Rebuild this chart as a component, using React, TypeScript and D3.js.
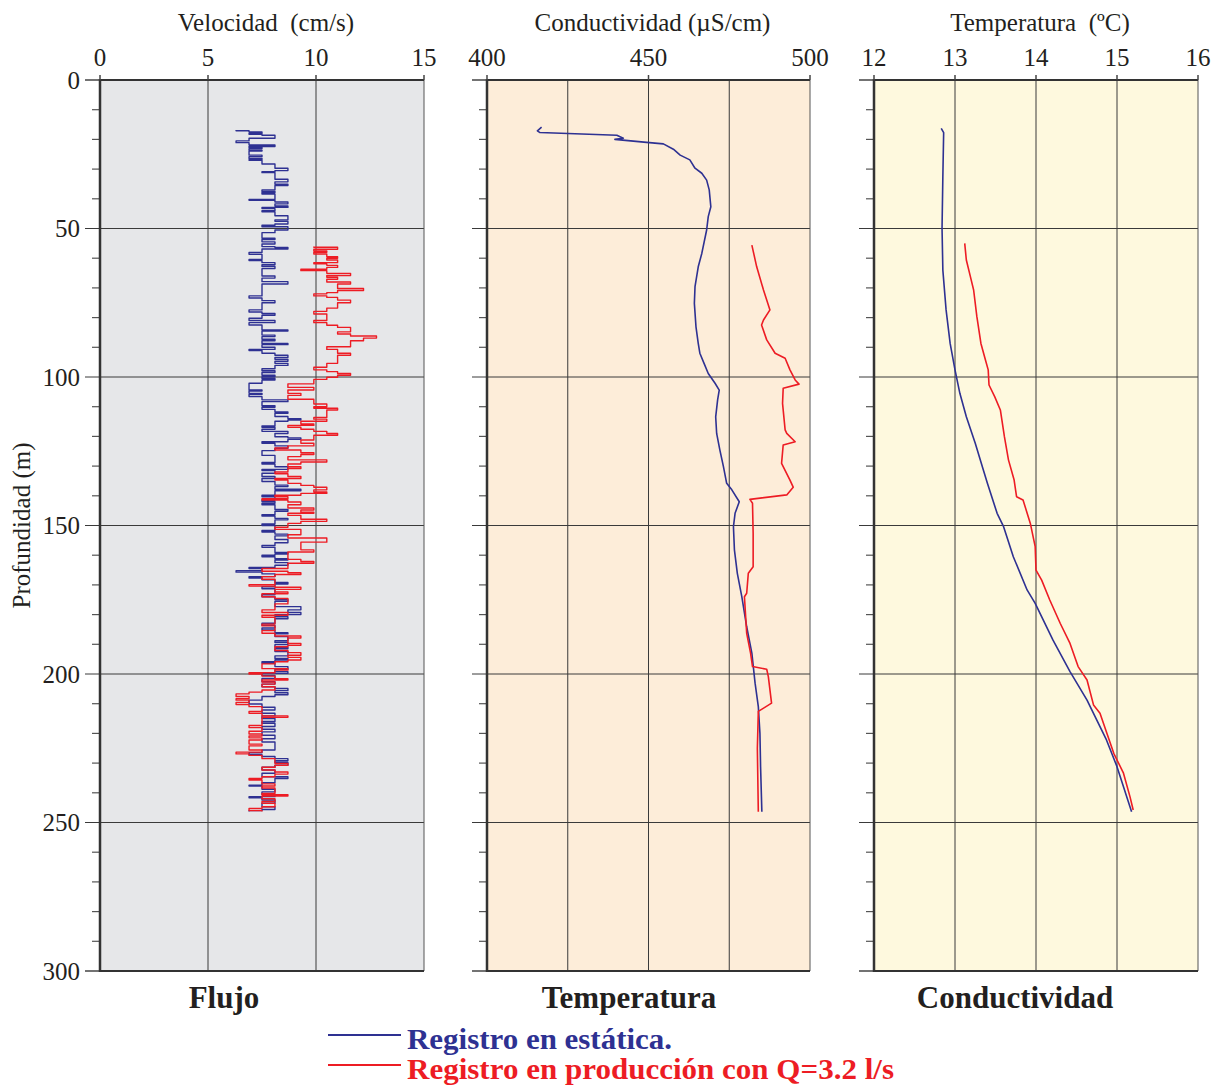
import React from 'react';
import * as d3 from 'd3';

const profundidadTicks = [0, 50, 100, 150, 200, 250, 300];
const profundidadMinor = d3.range(0, 301, 10);

const velocidadTicks = [0, 5, 10, 15];
const velocidadGrid = [5, 10];
const conductividadTicks = [400, 450, 500];
const conductividadGrid = [425, 450, 475];
const temperaturaTicks = [12, 13, 14, 15, 16];
const temperaturaGrid = [13, 14, 15];

// [profundidad (m), velocidad (cm/s)] - cada valor se mantiene hasta la siguiente profundidad
const flujoEstatica: [number, number][] = [
  [16.8, 6.3], [17.1, 6.9], [17.5, 7.5], [18.0, 6.9], [18.3, 7.5], [18.6, 8.1], [19.6, 6.9], [20.5, 6.3],
  [21.1, 6.9], [21.9, 8.1], [22.4, 6.9], [22.7, 7.5], [23.1, 6.9], [23.6, 7.5], [23.9, 6.9], [25.3, 7.5],
  [25.8, 6.9], [26.4, 7.5], [26.8, 6.9], [27.0, 7.5], [28.3, 8.1], [29.7, 8.7], [30.5, 8.1], [30.9, 7.5],
  [31.2, 8.1], [33.4, 8.7], [34.3, 8.1], [35.1, 8.7], [35.5, 8.1], [37.0, 7.5], [37.5, 8.1], [37.9, 7.5],
  [38.4, 8.1], [40.2, 6.9], [40.5, 8.1], [41.1, 8.7], [41.7, 8.1], [42.4, 8.7], [42.9, 7.5], [43.3, 8.1],
  [44.0, 7.5], [44.4, 8.1], [45.7, 8.7], [47.1, 8.1], [47.6, 8.7], [48.5, 8.1], [48.9, 7.5], [49.4, 8.7],
  [50.5, 8.1], [51.4, 7.5], [53.3, 8.1], [53.7, 7.5], [54.5, 8.1], [55.2, 7.5], [56.1, 8.1], [56.4, 8.7],
  [56.9, 7.5], [58.1, 6.9], [58.7, 7.5], [60.4, 6.9], [60.8, 7.5], [61.5, 8.1], [62.2, 7.5], [62.8, 8.1],
  [63.5, 7.5], [66.0, 8.1], [66.7, 7.5], [67.9, 8.7], [68.7, 7.5], [72.7, 6.9], [73.4, 7.5],
  [74.3, 8.1], [75.0, 7.5], [77.4, 6.9], [78.1, 7.5], [78.6, 8.1], [79.2, 7.5], [80.2, 6.9], [81.0, 8.1],
  [81.7, 6.9], [82.5, 7.5], [84.2, 8.7], [84.5, 7.5], [85.9, 8.1], [86.4, 7.5], [87.3, 8.1], [87.8, 7.5],
  [88.7, 8.7], [89.1, 7.5], [90.0, 8.1], [90.7, 6.9], [91.1, 7.5], [92.0, 8.1], [92.7, 8.7], [93.4, 8.1],
  [94.0, 8.7], [94.7, 8.1], [95.4, 8.7], [96.1, 8.1], [97.2, 7.5], [97.9, 8.1], [98.5, 7.5], [99.4, 8.1],
  [99.9, 7.5], [100.5, 8.1], [101.0, 7.5], [102.1, 6.9], [104.4, 7.5], [104.7, 6.9], [105.5, 7.5],
  [105.9, 6.9], [106.6, 7.5], [107.7, 8.7], [108.3, 7.5], [109.7, 8.1], [110.2, 7.5], [110.9, 8.1],
  [111.8, 8.7], [112.2, 8.1], [113.3, 8.7], [114.0, 9.3], [114.5, 8.7], [114.9, 8.1], [116.5, 7.5],
  [116.9, 8.1], [117.6, 7.5], [118.3, 8.7], [119.0, 8.1], [120.1, 8.7], [120.5, 9.3], [121.0, 8.7],
  [121.8, 7.5], [122.3, 8.1], [123.2, 8.7], [124.0, 8.1], [124.8, 7.5], [126.4, 8.1], [128.8, 7.5],
  [129.3, 8.1], [130.2, 8.7], [131.1, 7.5], [131.5, 8.1], [132.4, 7.5], [133.5, 8.1], [134.2, 7.5],
  [135.2, 8.1], [136.4, 8.7], [136.9, 8.1], [137.8, 9.3], [138.3, 8.1], [139.8, 7.5], [140.3, 8.1],
  [141.4, 7.5], [141.9, 8.1], [142.5, 7.5], [143.0, 8.1], [144.6, 8.7], [145.2, 8.1], [146.4, 7.5],
  [146.8, 8.1], [147.6, 8.7], [148.1, 8.1], [149.5, 7.5], [150.0, 8.1], [151.7, 7.5], [152.2, 8.1],
  [152.9, 8.7], [153.5, 8.1], [154.7, 8.7], [155.8, 8.1], [156.7, 7.5], [157.3, 8.1], [159.1, 8.7],
  [159.6, 8.1], [160.0, 7.5], [160.5, 8.1], [161.2, 8.7], [161.6, 8.1], [162.5, 8.7], [163.4, 8.1],
  [164.1, 6.9], [164.5, 7.5], [165.2, 6.3], [165.7, 7.5], [166.3, 8.1], [167.2, 6.9], [167.7, 7.5],
  [168.3, 8.1], [169.2, 8.7], [169.7, 8.1], [170.6, 7.5], [171.3, 8.1], [173.3, 7.5], [174.0, 8.1],
  [174.9, 8.7], [175.5, 8.1], [177.3, 9.3], [178.4, 8.7], [179.3, 9.3], [180.0, 8.1], [180.7, 8.7],
  [181.4, 8.1], [182.9, 7.5], [183.6, 8.1], [184.5, 7.5], [185.2, 8.1], [186.1, 8.7], [186.5, 8.1],
  [187.4, 8.7], [188.8, 8.1], [189.4, 8.7], [190.1, 8.1], [191.0, 8.7], [191.5, 8.1], [192.4, 8.7],
  [193.9, 8.1], [194.8, 8.7], [195.3, 8.1], [195.9, 7.5], [196.4, 8.1], [197.5, 8.7], [198.4, 8.1],
  [199.2, 8.7], [199.8, 7.5], [200.5, 8.1], [201.5, 7.5], [202.6, 8.1], [203.4, 7.5], [204.3, 8.1],
  [204.9, 8.7], [205.6, 8.1], [206.3, 8.7], [207.0, 8.1], [207.6, 7.5], [208.8, 6.9], [210.1, 7.5],
  [211.2, 8.1], [212.1, 7.5], [213.2, 8.1], [214.1, 7.5], [215.0, 8.1], [216.0, 7.5], [216.6, 8.1],
  [217.7, 7.5], [218.6, 8.1], [219.5, 7.5], [220.6, 8.1], [221.8, 7.5], [222.9, 8.1], [225.6, 7.5],
  [226.5, 6.9], [227.2, 7.5], [227.8, 8.1], [228.5, 8.7], [229.2, 8.1], [229.8, 8.7], [230.7, 8.1],
  [231.4, 7.5], [232.3, 8.1], [233.4, 7.5], [234.6, 8.7], [235.2, 8.1], [236.6, 7.5], [237.4, 6.9],
  [237.7, 7.5], [238.8, 8.1], [239.7, 7.5], [240.6, 8.1], [241.3, 6.9], [241.7, 7.5], [242.4, 8.1],
  [243.5, 7.5], [244.7, 8.1], [245.6, 7.5], [246.0, 6.9], [246.3, 6.9],
];

const flujoProduccion: [number, number][] = [
  [56.1, 9.9], [56.3, 11.0], [57.0, 9.9], [57.6, 10.5], [58.0, 9.9], [58.6, 10.5], [59.5, 11.0], [60.0, 10.5],
  [60.6, 11.0], [61.5, 9.9], [61.9, 10.5], [62.4, 11.0], [63.1, 10.5], [63.7, 9.3], [64.2, 10.5], [65.1, 11.6],
  [65.8, 10.5], [66.4, 11.0], [67.1, 10.5], [68.0, 11.6], [68.7, 11.0], [70.2, 12.2], [70.9, 11.0],
  [71.6, 10.5], [72.0, 9.9], [72.7, 10.5], [73.2, 11.0], [74.1, 11.6], [75.0, 11.0], [76.8, 10.5],
  [77.9, 9.9], [78.8, 10.5], [81.0, 9.9], [81.7, 10.5], [82.6, 11.0], [83.3, 11.6], [84.8, 11.0],
  [85.5, 11.6], [86.2, 12.8], [86.9, 12.2], [87.8, 11.6], [89.8, 10.5], [90.7, 11.0], [92.0, 11.6],
  [92.7, 11.0], [95.4, 10.5], [96.7, 9.9], [97.6, 10.5], [98.2, 11.0], [98.8, 11.6], [99.4, 11.0],
  [100.1, 10.5], [100.8, 9.9], [102.3, 8.7], [103.5, 9.9], [104.4, 8.7], [105.5, 9.3], [106.2, 8.7],
  [107.5, 9.9], [109.1, 10.5], [110.0, 9.9], [110.5, 11.0], [111.1, 10.5], [113.6, 9.9], [114.2, 10.5],
  [114.9, 9.3], [115.8, 9.9], [116.3, 8.7], [116.9, 9.3], [117.6, 9.9], [118.3, 10.5], [119.0, 11.0],
  [119.6, 9.9], [121.2, 9.3], [122.3, 9.9], [123.2, 8.7], [123.9, 8.1], [124.6, 9.3], [125.5, 9.9],
  [126.1, 9.3], [126.8, 8.7], [127.9, 10.5], [128.6, 9.3], [129.3, 8.7], [130.2, 9.3], [130.8, 8.7],
  [132.0, 8.1], [132.6, 8.7], [133.5, 9.3], [134.2, 8.1], [134.7, 8.7], [135.8, 9.3], [136.5, 9.9],
  [137.1, 10.5], [138.0, 9.9], [138.7, 10.5], [139.2, 9.3], [139.8, 8.1], [140.3, 8.7], [141.0, 7.5],
  [141.4, 8.7], [142.1, 9.3], [143.0, 8.7], [144.1, 9.9], [144.8, 9.3], [145.5, 9.9], [145.9, 8.7],
  [146.6, 9.3], [147.9, 10.5], [148.6, 9.3], [149.3, 8.7], [150.6, 8.1], [151.3, 9.3], [153.1, 8.7],
  [154.2, 10.5], [155.6, 9.3], [158.2, 9.9], [158.9, 8.7], [161.4, 9.3], [162.1, 9.9], [162.7, 8.7],
  [164.5, 7.5], [165.4, 8.7], [165.9, 9.3], [166.5, 8.1], [167.2, 7.5], [168.1, 8.1], [169.9, 6.9],
  [170.4, 8.1], [170.8, 9.3], [171.5, 8.1], [172.4, 8.7], [173.0, 7.5], [174.0, 8.1], [174.6, 8.7],
  [176.4, 8.1], [178.4, 7.5], [179.3, 8.7], [180.2, 7.5], [180.9, 8.1], [183.2, 7.5], [183.8, 8.1],
  [185.4, 7.5], [186.3, 8.1], [187.2, 9.3], [187.9, 8.7], [189.7, 9.3], [190.3, 8.7], [190.8, 8.1],
  [192.1, 8.7], [192.8, 9.3], [193.7, 8.7], [194.4, 9.3], [195.3, 8.7], [195.9, 8.1], [196.6, 7.5],
  [198.2, 8.7], [198.7, 8.1], [199.6, 6.9], [200.0, 7.5], [200.7, 8.1], [201.6, 8.7], [202.0, 7.5],
  [202.7, 8.1], [203.4, 7.5], [204.3, 8.1], [205.4, 7.5], [206.1, 6.9], [206.7, 6.3], [207.6, 6.9],
  [208.3, 6.3], [208.8, 6.9], [209.6, 6.3], [210.3, 6.9], [211.0, 7.5], [212.6, 6.9], [213.2, 7.5],
  [214.1, 8.7], [214.6, 7.5], [217.3, 6.9], [218.0, 7.5], [219.3, 6.9], [220.2, 7.5], [220.9, 6.9],
  [221.5, 7.5], [222.2, 6.9], [223.6, 7.5], [224.2, 6.9], [225.6, 7.5], [226.3, 6.3], [226.9, 6.9],
  [227.4, 7.5], [228.5, 8.1], [230.1, 8.7], [230.7, 8.1], [231.4, 7.5], [232.3, 8.1], [233.0, 8.7],
  [233.7, 8.1], [234.6, 7.5], [235.2, 6.9], [235.7, 7.5], [237.0, 8.1], [237.7, 7.5], [238.4, 8.1],
  [240.2, 7.5], [240.6, 8.7], [241.1, 7.5], [242.0, 8.1], [242.9, 7.5], [243.5, 8.1], [244.7, 7.5],
  [245.3, 6.9], [246.0, 7.5], [246.3, 7.5],
];

// [profundidad (m), conductividad (µS/cm)]
const conductividadEstatica: [number, number][] = [
  [15.9, 416.9], [17.1, 415.6], [17.7, 416.4], [18.6, 440.2], [19.6, 442.2], [20.0, 439.6], [21.0, 449.4],
  [21.5, 454.6], [23.3, 457.7], [25.3, 459.8], [26.9, 462.8], [29.7, 464.4], [31.4, 466.5], [33.7, 468.0],
  [37.0, 468.8], [42.7, 469.3], [46.0, 468.5], [50.5, 468.0], [58.4, 466.5], [62.9, 465.4], [69.6, 464.4],
  [75.2, 464.2], [83.1, 464.7], [88.7, 465.4], [92.0, 465.9], [95.4, 467.2], [98.8, 468.5], [102.1, 470.6],
  [104.4, 471.9], [107.7, 471.4], [113.4, 470.8], [119.0, 471.1], [124.6, 472.1], [130.2, 473.2],
  [135.8, 474.2], [138.0, 475.8], [142.0, 478.1], [145.9, 476.8], [150.4, 476.3], [158.2, 476.6],
  [166.1, 477.5], [174.0, 478.9], [184.1, 480.4], [193.0, 482.0], [203.1, 483.0], [211.0, 484.0],
  [220.0, 484.5], [231.2, 484.7], [246.4, 485.1],
];

const conductividadProduccion: [number, number][] = [
  [55.6, 482.0], [62.9, 483.5], [70.7, 485.6], [77.4, 487.6], [80.8, 485.6], [82.5, 485.0], [87.5, 486.6],
  [92.0, 489.2], [93.7, 492.3], [97.6, 493.8], [101.0, 495.4], [102.4, 496.6], [103.8, 491.7],
  [108.9, 491.5], [117.8, 492.3], [119.0, 492.8], [121.8, 495.4], [122.9, 491.7], [129.1, 491.2],
  [134.7, 493.8], [137.1, 494.8], [139.7, 492.8], [141.2, 481.4], [142.5, 482.2], [152.6, 482.4],
  [163.9, 482.4], [166.1, 480.9], [172.8, 480.4], [174.0, 479.7], [186.3, 480.4], [193.0, 481.6],
  [197.5, 482.2], [198.4, 486.6], [200.9, 487.1], [209.8, 488.1], [212.6, 484.0], [225.0, 483.7],
  [246.4, 484.0],
];

// [profundidad (m), temperatura (ºC)]
const temperaturaEstatica: [number, number][] = [
  [16.3, 12.83], [17.7, 12.86], [32.6, 12.85], [49.9, 12.84], [64.0, 12.85], [77.4, 12.89], [88.7, 12.94],
  [97.6, 13.0], [105.5, 13.06], [113.4, 13.14], [122.3, 13.25], [131.3, 13.35], [135.8, 13.40],
  [145.9, 13.52], [150.4, 13.6], [160.5, 13.72], [171.7, 13.89], [176.2, 13.99], [188.6, 14.21],
  [199.2, 14.42], [208.8, 14.63], [222.2, 14.87], [231.2, 15.0], [246.4, 15.18],
];

const temperaturaProduccion: [number, number][] = [
  [55.0, 13.12], [60.6, 13.14], [66.2, 13.19], [70.7, 13.23], [79.7, 13.27], [88.7, 13.32], [93.7, 13.37],
  [97.6, 13.41], [102.7, 13.42], [106.6, 13.49], [111.1, 13.56], [120.1, 13.61], [127.9, 13.66],
  [134.7, 13.73], [140.3, 13.76], [141.4, 13.84], [149.3, 13.93], [157.1, 13.99], [165.0, 14.0],
  [168.4, 14.07], [175.1, 14.17], [183.0, 14.3], [189.7, 14.42], [197.5, 14.52], [202.0, 14.63],
  [210.4, 14.71], [213.2, 14.79], [226.7, 14.96], [233.4, 15.08], [241.3, 15.16], [245.8, 15.2],
];

const AZUL = '#2e3192';
const ROJO = '#ed1c24';
const TINTA = '#231f20';
const FUENTE = '"Liberation Serif", "Times New Roman", serif';

const Y0 = 80;
const Y1 = 971;

const y = d3.scaleLinear().domain([0, 300]).range([Y0, Y1]);

const panels = [
  {
    key: 'flujo', x0: 100, x1: 424, domain: [0, 15], ticks: velocidadTicks, grid: velocidadGrid,
    fondo: '#e6e7e9', titulo: 'Velocidad  (cm/s)', etiqueta: 'Flujo', etiquetaX: 224, step: true,
    series: [{ data: flujoEstatica, color: AZUL }, { data: flujoProduccion, color: ROJO }],
  },
  {
    key: 'cond', x0: 487, x1: 810, domain: [400, 500], ticks: conductividadTicks, grid: conductividadGrid,
    fondo: '#fdedd9', titulo: 'Conductividad (µS/cm)', etiqueta: 'Temperatura', etiquetaX: 629, step: false,
    series: [{ data: conductividadEstatica, color: AZUL }, { data: conductividadProduccion, color: ROJO }],
  },
  {
    key: 'temp', x0: 874, x1: 1198, domain: [12, 16], ticks: temperaturaTicks, grid: temperaturaGrid,
    fondo: '#fef9de', titulo: 'Temperatura  (ºC)', etiqueta: 'Conductividad', etiquetaX: 1015, step: false,
    series: [{ data: temperaturaEstatica, color: AZUL }, { data: temperaturaProduccion, color: ROJO }],
  },
];

function Panel({ p, first }: { p: any; first: boolean }) {
  const x = d3.scaleLinear().domain(p.domain).range([p.x0, p.x1]);
  const line = d3.line<[number, number]>()
    .x(d => x(d[1]))
    .y(d => y(d[0]))
    .curve(p.step ? d3.curveStepBefore : d3.curveLinear);
  const cx = (p.x0 + p.x1) / 2;

  return (
    <g>
      <rect x={p.x0} y={Y0} width={p.x1 - p.x0} height={Y1 - Y0} fill={p.fondo} />
      {/* rejilla vertical */}
      {p.grid.map((v: number) => (
        <line key={'gv' + v} x1={x(v)} x2={x(v)} y1={Y0} y2={Y1} stroke="#3a3a3a" strokeWidth={1} />
      ))}
      {/* rejilla horizontal */}
      {profundidadTicks.slice(1, -1).map(d => (
        <line key={'gh' + d} x1={p.x0 - 15} x2={p.x1} y1={y(d)} y2={y(d)} stroke="#3a3a3a" strokeWidth={1} />
      ))}
      {profundidadMinor.filter(d => d % 50 !== 0).map(d => (
        <line key={'mt' + d} x1={p.x0 - 8} x2={p.x0} y1={y(d)} y2={y(d)} stroke="#555" strokeWidth={1.2} />
      ))}
      {[0, 300].map(d => (
        <line key={'mj' + d} x1={p.x0 - 15} x2={p.x0} y1={y(d)} y2={y(d)} stroke="#444" strokeWidth={1.5} />
      ))}
      {/* marco */}
      <line x1={p.x1} x2={p.x1} y1={Y0} y2={Y1} stroke="#555" strokeWidth={1} />
      <line x1={p.x0} x2={p.x1} y1={Y1} y2={Y1} stroke="#333" strokeWidth={2} />
      <line x1={p.x0} x2={p.x1} y1={Y0} y2={Y0} stroke="#333" strokeWidth={2} />
      <line x1={p.x0} x2={p.x0} y1={Y0 - 1} y2={Y1 + 1} stroke="#333" strokeWidth={2.5} />
      {p.ticks.map((v: number) => (
        <line key={'tt' + v} x1={x(v)} x2={x(v)} y1={Y0 - 5} y2={Y0} stroke="#444" strokeWidth={1.5} />
      ))}
      {/* curvas */}
      {p.series.map((s: any, i: number) => (
        <path key={'s' + i} d={line(s.data) || ''} fill="none" stroke={s.color}
          strokeWidth={p.step ? 1.4 : 1.6} strokeLinejoin="round" />
      ))}
      {/* etiquetas del eje superior */}
      {p.ticks.map((v: number) => (
        <text key={'tl' + v} x={x(v)} y={66} textAnchor="middle" fontSize={25} fill={TINTA} fontFamily={FUENTE}>
          {v}
        </text>
      ))}
      <text x={cx + 4} y={31} textAnchor="middle" fontSize={25} fill={TINTA} fontFamily={FUENTE}
        style={{ whiteSpace: 'pre' }}>
        {p.titulo}
      </text>
      <text x={p.etiquetaX} y={1008} textAnchor="middle" fontSize={31} fontWeight="bold" fill={TINTA}
        fontFamily={FUENTE}>
        {p.etiqueta}
      </text>
      {first && profundidadTicks.map(d => (
        <text key={'yl' + d} x={80} y={y(d)} dy="0.35em" textAnchor="end" fontSize={25} fill={TINTA}
          fontFamily={FUENTE}>
          {d}
        </text>
      ))}
    </g>
  );
}

export default function App() {
  return (
    <svg width={1219} height={1086} style={{ position: 'absolute', left: 0, top: 0, background: '#fff' }}>
      <rect width={1219} height={1086} fill="#fff" />
      {panels.map((p, i) => <Panel key={p.key} p={p} first={i === 0} />)}
      <text transform={`translate(30,${y(150)}) rotate(-90)`} textAnchor="middle" fontSize={25} fill={TINTA}
        fontFamily={FUENTE}>
        Profundidad (m)
      </text>
      {/* leyenda */}
      <line x1={328} x2={401} y1={1035} y2={1035} stroke={AZUL} strokeWidth={2.2} />
      <text x={407} y={1049} fontSize={29} fontWeight="bold" fill={AZUL} fontFamily={FUENTE}
        textLength={265} lengthAdjust="spacingAndGlyphs">
        Registro en estática.
      </text>
      <line x1={328} x2={401} y1={1065} y2={1065} stroke={ROJO} strokeWidth={2.2} />
      <text x={407} y={1079} fontSize={29} fontWeight="bold" fill={ROJO} fontFamily={FUENTE}
        textLength={487} lengthAdjust="spacingAndGlyphs">
        Registro en producción con Q=3.2 l/s
      </text>
    </svg>
  );
}
